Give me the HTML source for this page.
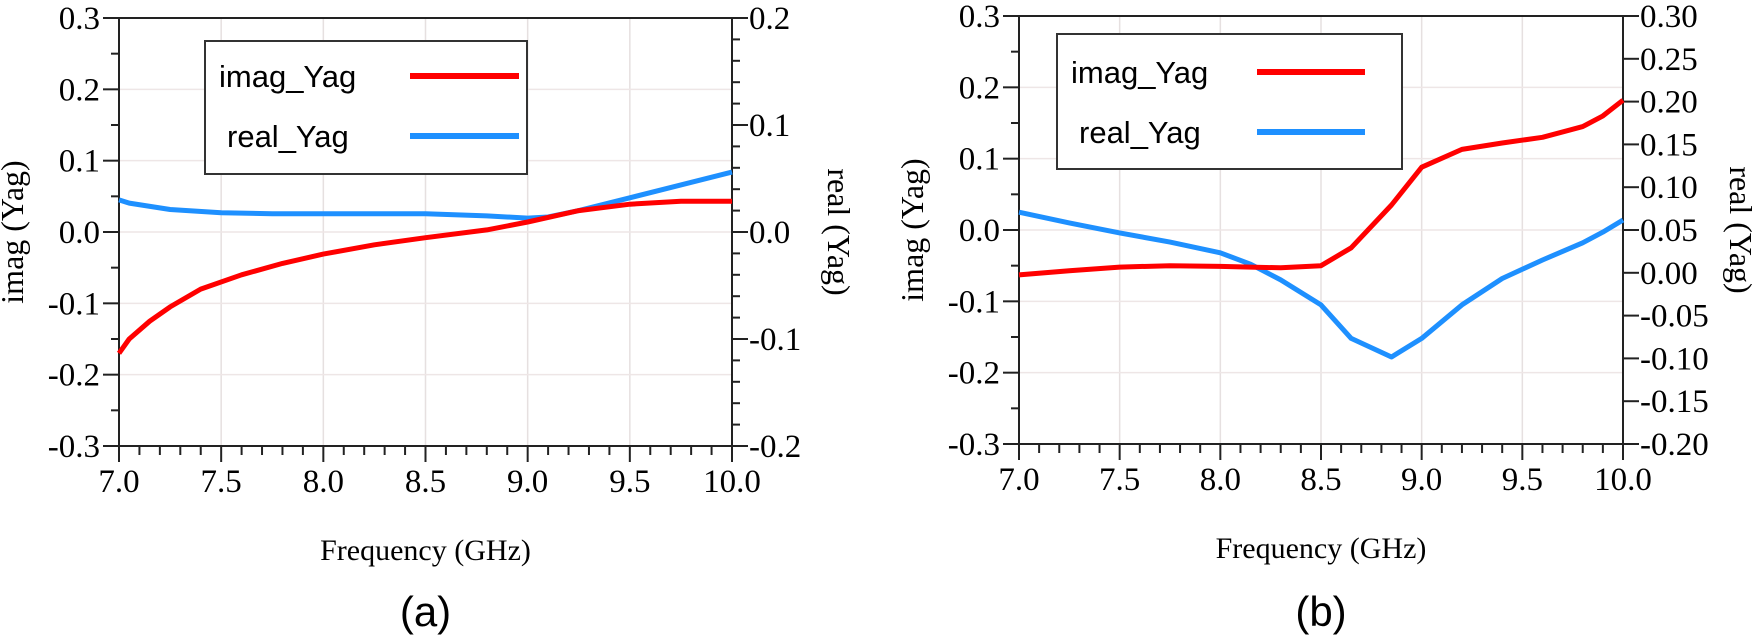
<!DOCTYPE html>
<html><head><meta charset="utf-8"><style>
html,body{margin:0;padding:0;background:#fff;}
svg{display:block}
</style></head><body>
<svg id="c" width="1756" height="639" viewBox="0 0 1756 639" xmlns="http://www.w3.org/2000/svg"></svg>
<script>
const S=document.getElementById('c');let h='';
const SERIF='&quot;Liberation Serif&quot;, serif', SANS='&quot;Liberation Sans&quot;, sans-serif';
function L(x1,y1,x2,y2,c,w){h+=`<line x1="${x1}" y1="${y1}" x2="${x2}" y2="${y2}" stroke="${c}" stroke-width="${w}"/>`;}
function T(x,y,t,a,sz,sans,extra){h+=`<text x="${x}" y="${y}" text-anchor="${a}" font-size="${sz}" font-family="${sans?SANS:SERIF}" fill="#000" ${extra||''}>${t}</text>`;}
function panel(o){
 const {x0,x1,y0,y1}=o;const W=x1-x0,H=y1-y0;
 const X=f=>x0+(f-7)/3*W, Y=v=>y0+(0.3-v)/0.6*H;
 for(let f=7.5;f<10;f+=0.5)L(X(f),y0,X(f),y1,'#e6e0e0',1.5);
 for(let i=1;i<6;i++){let y=y0+i*H/6;L(x0,y,x1,y,'#eee6e6',1.5);}
 L(x0,y0,x0,y1+16,'#222',2);
 for(let i=0;i<=6;i++){let y=y0+i*H/6;L(x0-16,y,x0,y,'#222',2);T(x0-19,y+11,(0.3-i*0.1).toFixed(1).replace('-0.0','0.0'),'end',33);}
 for(let i=0;i<6;i++){let y=y0+(i+0.5)*H/6;L(x0-8,y,x0,y,'#222',2);}
 L(x0,y0,x1,y0,'#222',2);
 L(x0-16,y1,x1,y1,'#222',2);
 for(let k=0;k<=30;k++){let x=x0+k*W/30;let maj=k%5==0;L(x,y1,x,y1+(maj?16:9),'#222',2);if(maj)T(x,y1+46,(7+k/10).toFixed(1),'middle',33);}
 L(x1,y0,x1,y1+16,'#222',2);
 const n=o.rn;for(let k=0;k<=n;k++){let y=y0+k*H/n;let maj=k%o.rm==0;L(x1,y,x1+(maj?16:8),y,'#222',2);if(maj){let v=o.rt-(k/o.rm)*o.rs;let s=v.toFixed(o.rd);if(Math.abs(v)<1e-9)s=(0).toFixed(o.rd);T(x1+17,y+11,s,'start',33);}}
 const path=(pts,c)=>{h+=`<polyline fill="none" stroke="${c}" stroke-width="5" stroke-linejoin="round" points="${pts.map(p=>X(p[0]).toFixed(1)+','+Y(p[1]).toFixed(1)).join(' ')}"/>`;};
 path(o.blue,'#1e90ff');path(o.red,'#ff0000');
 const g=o.lg;h+=`<rect x="${g[0]}" y="${g[1]}" width="${g[2]-g[0]}" height="${g[3]-g[1]}" fill="#fff" stroke="#333" stroke-width="2"/>`;
 T(g[0]+14,o.ly[0]+11,'imag_Yag','start',31,1);T(g[0]+22,o.ly[1]+11,'real_Yag','start',31,1);
 L(o.lx[0],o.ly[0],o.lx[1],o.ly[0],'#ff0000',6);L(o.lx[0],o.ly[1],o.lx[1],o.ly[1],'#1e90ff',6);
 T(0,0,'imag (Yag)','middle',32,0,`transform="translate(${x0-96},${(y0+y1)/2}) rotate(-90)"`);
 T(0,0,'real (Yag)','middle',32,0,`transform="translate(${o.rlx},${(y0+y1)/2}) rotate(90)"`);
 T((x0+x1)/2,y1+114,'Frequency (GHz)','middle',30);
 T((x0+x1)/2,626,o.cap,'middle',42,1);
}
const ra=[[7,0.03],[7.05,0.027],[7.25,0.021],[7.5,0.018],[7.75,0.017],[8,0.017],[8.5,0.017],[8.8,0.015],[9,0.013],[9.1,0.014],[9.25,0.02],[9.5,0.032],[9.75,0.044],[10,0.056]];
panel({x0:119,x1:732,y0:18,y1:446,rn:20,rm:5,rt:0.2,rs:0.1,rd:1,rlx:828,cap:'(a)',
 red:[[7,-0.17],[7.05,-0.15],[7.15,-0.125],[7.25,-0.105],[7.4,-0.08],[7.6,-0.06],[7.8,-0.044],[8,-0.031],[8.25,-0.018],[8.5,-0.008],[8.8,0.003],[9,0.014],[9.25,0.03],[9.5,0.039],[9.75,0.043],[10,0.043]],
 blue:ra.map(p=>[p[0],p[1]*1.5]),
 lg:[205,41,527,174],ly:[76,136],lx:[410,519]});
panel({x0:1019,x1:1623,y0:16,y1:444,rn:10,rm:1,rt:0.30,rs:0.05,rd:2,rlx:1730,cap:'(b)',
 red:[[7,-0.063],[7.25,-0.057],[7.5,-0.052],[7.75,-0.05],[8,-0.051],[8.3,-0.053],[8.5,-0.05],[8.65,-0.025],[8.85,0.035],[9,0.088],[9.2,0.113],[9.4,0.122],[9.6,0.13],[9.8,0.145],[9.9,0.16],[10,0.182]],
 blue:[[7,0.025],[7.25,0.01],[7.5,-0.004],[7.75,-0.017],[8,-0.032],[8.15,-0.048],[8.3,-0.07],[8.5,-0.105],[8.65,-0.152],[8.85,-0.178],[9,-0.152],[9.2,-0.105],[9.4,-0.068],[9.6,-0.042],[9.8,-0.018],[9.9,-0.003],[10,0.014]],
 lg:[1057,34,1402,169],ly:[72,132],lx:[1257,1365]});
S.innerHTML=h;
</script>
</body></html>
